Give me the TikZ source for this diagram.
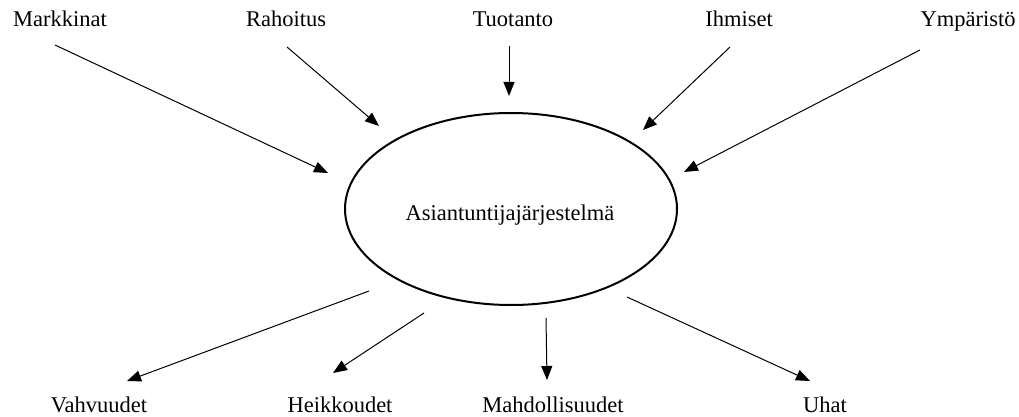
\documentclass[tikz,border=0pt]{standalone}
\usepackage{fontspec}
\setmainfont{Liberation Serif}
\usetikzlibrary{arrows.meta,shapes.geometric}
\begin{document}
\begin{tikzpicture}[x=1pt,y=-1pt,
  lbl/.style={inner sep=0pt,anchor=base,font=\fontsize{22.5}{25}\selectfont},
  link/.style={line width=1pt,-{Triangle[length=14pt,width=11pt]}}]
\useasboundingbox (0,0) rectangle (1019,417);
% central system
\node[draw,line width=2pt,ellipse,minimum width=332pt,minimum height=192pt,inner sep=0pt] (sys) at (511,209) {};
\node[lbl] (sysl) at (510,220) {Asiantuntijajärjestelmä};
% inputs
\node[lbl] (mark) at (60,27) {Markkinat};
\node[lbl] (raho) at (286,27) {Rahoitus};
\node[lbl] (tuot) at (513,27) {Tuotanto};
\node[lbl] (ihm)  at (739,27) {Ihmiset};
\node[lbl] (ymp)  at (968,27) {Ympäristö};
% outputs
\node[lbl] (vahv) at (99,412) {Vahvuudet};
\node[lbl] (heik) at (340,412) {Heikkoudet};
\node[lbl] (mahd) at (553,412) {Mahdollisuudet};
\node[lbl] (uhat) at (825,412) {Uhat};
% arrow ends
\coordinate (mark0) at (55,45);  \coordinate (mark1) at (328,173);
\coordinate (raho0) at (287,47); \coordinate (raho1) at (379,126);
\coordinate (tuot0) at (509,46); \coordinate (tuot1) at (509,96);
\coordinate (ihm0) at (730,47);  \coordinate (ihm1) at (643,130);
\coordinate (ymp0) at (920,50);  \coordinate (ymp1) at (684,172);
\coordinate (vahv0) at (369,291); \coordinate (vahv1) at (127,381);
\coordinate (heik0) at (424,313); \coordinate (heik1) at (333,373);
\coordinate (mahd0) at (546,318); \coordinate (mahd1) at (547,380);
\coordinate (uhat0) at (627,297); \coordinate (uhat1) at (810,381);
\foreach \n in {mark,raho,tuot,ihm,ymp,vahv,heik,mahd,uhat}
  \draw[link] (\n0) -- (\n1);
\end{tikzpicture}
\end{document}
